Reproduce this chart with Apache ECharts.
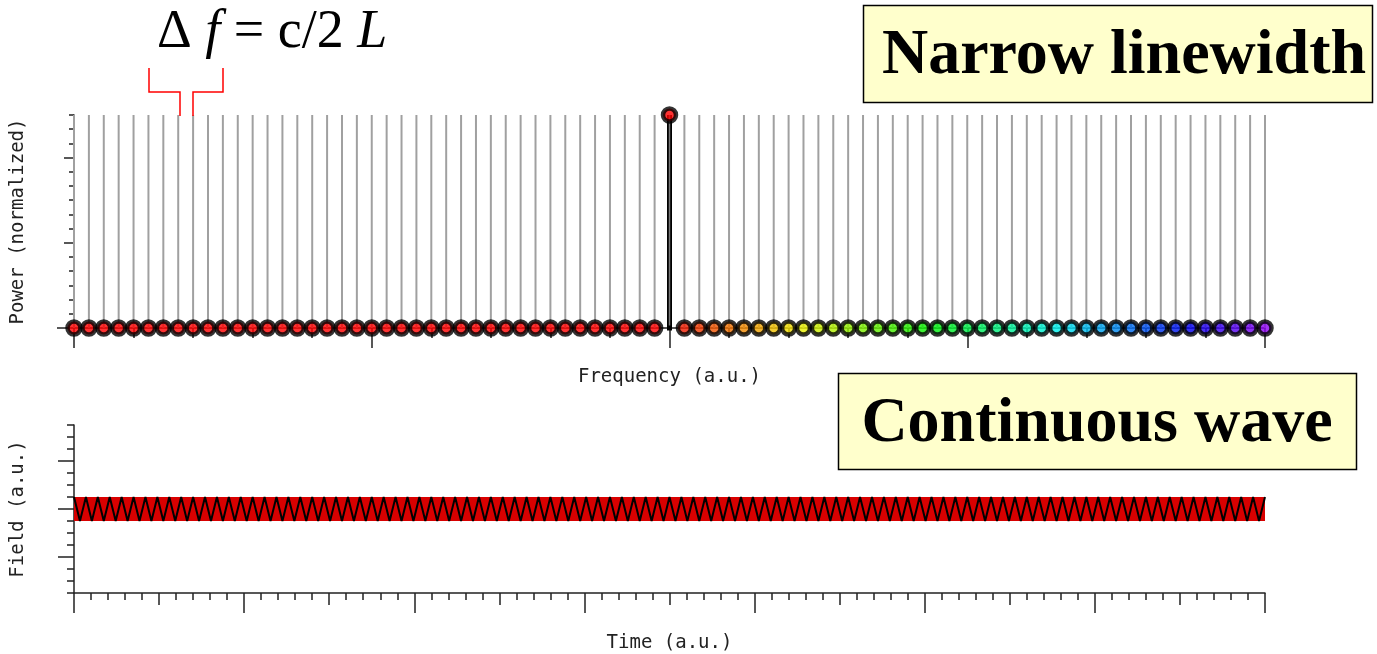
<!DOCTYPE html>
<html>
<head>
<meta charset="utf-8">
<title>Narrow linewidth - continuous wave</title>
<script src="https://cdn.jsdelivr.net/npm/echarts@6/dist/echarts.min.js"></script>
<style>
  html, body { margin: 0; padding: 0; background: #fff; }
  #main { width: 1377px; height: 654px; }
</style>
</head>
<body>
<div id="main"></div>
<script>
// cavity modes (index along frequency axis), center mode = 40
const modeIndex = Array.from({ length: 81 }, (_, i) => i)
// power per mode (normalized) - only the central mode lases
const modePower = [
  0, 0, 0, 0, 0, 0, 0, 0, 0, 0,
  0, 0, 0, 0, 0, 0, 0, 0, 0, 0,
  0, 0, 0, 0, 0, 0, 0, 0, 0, 0,
  0, 0, 0, 0, 0, 0, 0, 0, 0, 0,
  1,
  0, 0, 0, 0, 0, 0, 0, 0, 0, 0,
  0, 0, 0, 0, 0, 0, 0, 0, 0, 0,
  0, 0, 0, 0, 0, 0, 0, 0, 0, 0,
  0, 0, 0, 0, 0, 0, 0, 0, 0, 0
]
// height of the grey comb lines (allowed cavity modes)
const combHeight = 1

// field vs time: peaks / troughs of the carrier (100 cycles)
const fieldValues = [
  0.25, -0.25, 0.25, -0.25, 0.25, -0.25, 0.25, -0.25, 0.25, -0.25, 0.25, -0.25, 0.25, -0.25, 0.25, -0.25, 0.25, -0.25, 0.25, -0.25,
  0.25, -0.25, 0.25, -0.25, 0.25, -0.25, 0.25, -0.25, 0.25, -0.25, 0.25, -0.25, 0.25, -0.25, 0.25, -0.25, 0.25, -0.25, 0.25, -0.25,
  0.25, -0.25, 0.25, -0.25, 0.25, -0.25, 0.25, -0.25, 0.25, -0.25, 0.25, -0.25, 0.25, -0.25, 0.25, -0.25, 0.25, -0.25, 0.25, -0.25,
  0.25, -0.25, 0.25, -0.25, 0.25, -0.25, 0.25, -0.25, 0.25, -0.25, 0.25, -0.25, 0.25, -0.25, 0.25, -0.25, 0.25, -0.25, 0.25, -0.25,
  0.25, -0.25, 0.25, -0.25, 0.25, -0.25, 0.25, -0.25, 0.25, -0.25, 0.25, -0.25, 0.25, -0.25, 0.25, -0.25, 0.25, -0.25, 0.25, -0.25,
  0.25, -0.25, 0.25, -0.25, 0.25, -0.25, 0.25, -0.25, 0.25, -0.25, 0.25, -0.25, 0.25, -0.25, 0.25, -0.25, 0.25, -0.25, 0.25, -0.25,
  0.25, -0.25, 0.25, -0.25, 0.25, -0.25, 0.25, -0.25, 0.25, -0.25, 0.25, -0.25, 0.25, -0.25, 0.25, -0.25, 0.25, -0.25, 0.25, -0.25,
  0.25, -0.25, 0.25, -0.25, 0.25, -0.25, 0.25, -0.25, 0.25, -0.25, 0.25, -0.25, 0.25, -0.25, 0.25, -0.25, 0.25, -0.25, 0.25, -0.25,
  0.25, -0.25, 0.25, -0.25, 0.25, -0.25, 0.25, -0.25, 0.25, -0.25, 0.25, -0.25, 0.25, -0.25, 0.25, -0.25, 0.25, -0.25, 0.25, -0.25,
  0.25, -0.25, 0.25, -0.25, 0.25, -0.25, 0.25, -0.25, 0.25, -0.25, 0.25, -0.25, 0.25, -0.25, 0.25, -0.25, 0.25, -0.25, 0.25, -0.25,
  0.25
]
const timeMax = 70
// constant envelope of the CW field
const envelopeTime = [0, 70]
const envelopeAmp = [0.25, 0.25]

const fieldTime = fieldValues.map((_, i) => i * timeMax / (fieldValues.length - 1))

// dot colour: left half red, right half runs through the rainbow
function dotColor(i) {
  if (i <= 40) return 'hsl(0, 100%, 50%)'
  const hue = (i - 40) / 40 * 275
  return 'hsl(' + hue.toFixed(0) + ', 100%, 47%)'
}

const labelFont = { fontFamily: 'DejaVu Sans Mono', fontSize: 19, color: '#222' }
const tickLine = { color: '#222', width: 1.5 }

// tick positions for the power axis (15 small steps, big ones every 6)
const powerMinor = Array.from({ length: 16 }, (_, i) => i / 15)

const chart = echarts.init(document.getElementById('main'))

const option = {
  backgroundColor: '#fff',
  animation: false,
  grid: [
    { left: 74, right: 112, top: 115, height: 213, outerBoundsMode: 'none', containLabel: false },
    { left: 74, right: 112, top: 425, height: 168, outerBoundsMode: 'none', containLabel: false }
  ],
  xAxis: [
    {
      gridIndex: 0, type: 'value', min: 0, max: 80, interval: 20,
      name: 'Frequency (a.u.)', nameLocation: 'middle', nameGap: 40, nameTextStyle: labelFont,
      axisLine: { onZero: false, lineStyle: tickLine },
      axisTick: { length: 20, lineStyle: tickLine },
      minorTick: { show: true, splitNumber: 5, length: 10, lineStyle: tickLine },
      axisLabel: { show: false }, splitLine: { show: false }
    },
    {
      gridIndex: 1, type: 'value', min: 0, max: timeMax, interval: 5, position: 'bottom',
      name: 'Time (a.u.)', nameLocation: 'middle', nameGap: 41, nameTextStyle: labelFont,
      axisLine: { onZero: false, lineStyle: tickLine },
      axisTick: { length: 12, lineStyle: tickLine },
      minorTick: { show: true, splitNumber: 5, length: 7, lineStyle: tickLine },
      axisLabel: { show: false }, splitLine: { show: false }
    },
    {
      gridIndex: 1, type: 'value', min: 0, max: timeMax, interval: 10, position: 'bottom',
      axisLine: { show: false, onZero: false },
      axisTick: { length: 20, lineStyle: tickLine },
      axisLabel: { show: false }, splitLine: { show: false }
    }
  ],
  yAxis: [
    {
      gridIndex: 0, type: 'value', min: 0, max: 1,
      name: 'Power (normalized)', nameLocation: 'middle', nameGap: 46, nameTextStyle: labelFont,
      axisLine: { onZero: false, lineStyle: tickLine },
      axisTick: { length: 5, customValues: powerMinor, lineStyle: tickLine },
      axisLabel: { show: false }, splitLine: { show: false }
    },
    {
      gridIndex: 0, type: 'value', min: 0, max: 1, position: 'left',
      axisLine: { show: false, onZero: false },
      axisTick: { length: 10, customValues: [0.4, 0.8], lineStyle: tickLine },
      axisLabel: { show: false }, splitLine: { show: false }
    },
    {
      gridIndex: 0, type: 'value', min: 0, max: 1, position: 'left',
      axisLine: { show: false, onZero: false },
      axisTick: { length: 17, customValues: [0], lineStyle: tickLine },
      axisLabel: { show: false }, splitLine: { show: false }
    },
    {
      gridIndex: 1, type: 'value', min: -1.75, max: 1.75, interval: 0.25,
      name: 'Field (a.u.)', nameLocation: 'middle', nameGap: 46, nameTextStyle: labelFont,
      axisLine: { onZero: false, lineStyle: tickLine },
      axisTick: { length: 7, lineStyle: tickLine },
      axisLabel: { show: false }, splitLine: { show: false }
    },
    {
      gridIndex: 1, type: 'value', min: -1.75, max: 1.75, position: 'left',
      axisLine: { show: false, onZero: false },
      axisTick: { length: 16, customValues: [-1, 0, 1], lineStyle: tickLine },
      axisLabel: { show: false }, splitLine: { show: false }
    }
  ],
  series: [
    {
      // grey comb of cavity modes
      type: 'custom', xAxisIndex: 0, yAxisIndex: 0,
      data: modeIndex.map(m => [m, combHeight]),
      renderItem: function (params, api) {
        const p0 = api.coord([api.value(0), 0])
        const p1 = api.coord([api.value(0), api.value(1)])
        return {
          type: 'line',
          shape: { x1: p0[0], y1: p0[1], x2: p1[0], y2: p1[1] },
          style: { stroke: '#a0a0a0', lineWidth: 2 }
        }
      }
    },
    {
      // lasing mode stem
      type: 'custom', xAxisIndex: 0, yAxisIndex: 0, z: 3,
      data: modeIndex.filter((m, i) => modePower[i] > 0).map(m => [m, modePower[m]]),
      renderItem: function (params, api) {
        const p0 = api.coord([api.value(0), 0])
        const p1 = api.coord([api.value(0), api.value(1)])
        return {
          type: 'group',
          children: [
            { type: 'line', shape: { x1: p0[0], y1: p0[1], x2: p1[0], y2: p1[1] }, style: { stroke: '#000', lineWidth: 5 } },
            { type: 'line', shape: { x1: p0[0], y1: p0[1], x2: p1[0], y2: p1[1] }, style: { stroke: '#777', lineWidth: 1.5 } },
            { type: 'rect', shape: { x: p0[0] - 2.5, y: p0[1] - 2.5, width: 5, height: 5 }, style: { fill: '#000' } }
          ]
        }
      }
    },
    {
      type: 'scatter', xAxisIndex: 0, yAxisIndex: 0, z: 4,
      symbol: 'circle', symbolSize: 13, clip: false,
      data: modeIndex.map((m, i) => ({
        value: [m, modePower[i]],
        itemStyle: { color: dotColor(i), borderColor: '#000', borderWidth: 4.5 }
      }))
    },
    {
      // red envelope band
      type: 'custom', xAxisIndex: 1, yAxisIndex: 3, z: 2,
      data: [[envelopeTime[0], envelopeTime[1], -envelopeAmp[0], envelopeAmp[1]]],
      renderItem: function (params, api) {
        const a = api.coord([api.value(0), api.value(3)])
        const b = api.coord([api.value(1), api.value(2)])
        return {
          type: 'rect',
          shape: { x: a[0], y: a[1], width: b[0] - a[0], height: b[1] - a[1] },
          style: { fill: '#d80000' }
        }
      }
    },
    {
      type: 'line', xAxisIndex: 1, yAxisIndex: 3, z: 3,
      showSymbol: false, symbol: 'none',
      lineStyle: { color: '#000', width: 2 },
      data: fieldTime.map((t, i) => [t, fieldValues[i]])
    }
  ],
  graphic: [
    {
      type: 'text', left: 157, top: 6, z: 10,
      style: {
        text: '{d|Δ }{i|f}{n| = c/2 }{i|L}',
        rich: {
          d: { fontFamily: 'Liberation Serif', fontSize: 54, fill: '#000' },
          i: { fontFamily: 'Liberation Serif', fontStyle: 'italic', fontSize: 54, fill: '#000' },
          n: { fontFamily: 'Liberation Serif', fontSize: 54, fill: '#000' }
        }
      }
    },
    {
      type: 'polyline', z: 10,
      shape: { points: [[149, 68], [149, 92], [180, 92], [180, 116]] },
      style: { stroke: '#ff0000', lineWidth: 1.5, fill: null }
    },
    {
      type: 'polyline', z: 10,
      shape: { points: [[223, 68], [223, 92], [193, 92], [193, 116]] },
      style: { stroke: '#ff0000', lineWidth: 1.5, fill: null }
    },
    {
      type: 'rect', z: 10,
      shape: { x: 863.5, y: 5.5, width: 509, height: 97 },
      style: { fill: '#ffffcc', stroke: '#000', lineWidth: 1.5 }
    },
    {
      type: 'text', z: 11, x: 1124, y: 56,
      style: {
        text: 'Narrow linewidth', align: 'center', verticalAlign: 'middle',
        fontFamily: 'Liberation Serif', fontWeight: 'bold', fontSize: 64, fill: '#000'
      }
    },
    {
      type: 'rect', z: 10,
      shape: { x: 838.5, y: 373.5, width: 518, height: 96 },
      style: { fill: '#ffffcc', stroke: '#000', lineWidth: 1.5 }
    },
    {
      type: 'text', z: 11, x: 1097, y: 424,
      style: {
        text: 'Continuous wave', align: 'center', verticalAlign: 'middle',
        fontFamily: 'Liberation Serif', fontWeight: 'bold', fontSize: 64, fill: '#000'
      }
    }
  ]
}

chart.setOption(option)
</script>
</body>
</html>
